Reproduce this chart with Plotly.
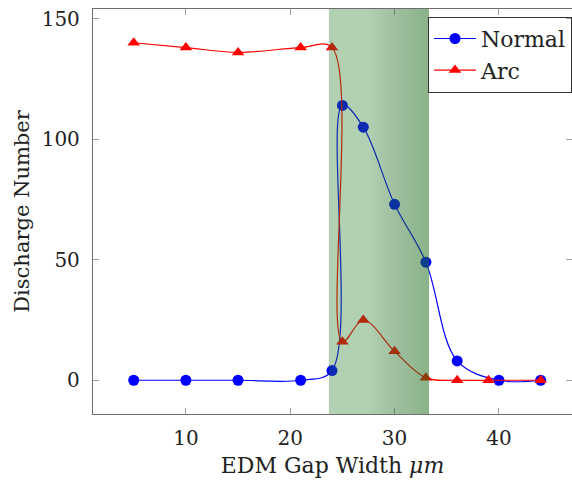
import plotly.graph_objects as go

# Data
normal_x = [5, 10, 15, 21, 24, 25, 27, 30, 33, 36, 40, 44]
normal_y = [0, 0, 0, 0, 4, 114, 105, 73, 49, 8, 0, 0]
arc_x = [5, 10, 15, 21, 24, 25, 27, 30, 33, 36, 39, 44]
arc_y = [140, 138, 136, 138, 138, 16, 25, 12, 1, 0, 0, 0]
x_ticks = [10, 20, 30, 40]
y_ticks = [0, 50, 100, 150]
shade_start, shade_end = 23.7, 33.3

FONT = "DejaVu Serif"

fig = go.Figure()
fig.add_trace(go.Scatter(
    x=normal_x, y=normal_y, name="Normal", mode="lines+markers",
    line=dict(color="#0000ff", width=1.2, shape="spline", smoothing=1.0),
    marker=dict(symbol="circle", size=11, color="#0000ff"),
))
fig.add_trace(go.Scatter(
    x=arc_x, y=arc_y, name="Arc", mode="lines+markers",
    line=dict(color="#ff0000", width=1.2, shape="spline", smoothing=1.0),
    marker=dict(symbol="triangle-up", size=11, color="#ff0000"),
))

# shaded band: base layer + stacked layers that darken toward the right
fig.add_shape(type="rect", xref="x", yref="paper", x0=shade_start, x1=shade_end,
              y0=0, y1=1, fillcolor="rgba(35,121,35,0.35)", line_width=0, layer="above")
n = 20
mid = shade_start + 0.4 * (shade_end - shade_start)
for i in range(n):
    xs = mid + (shade_end - mid) * i / n
    fig.add_shape(type="rect", xref="x", yref="paper", x0=xs, x1=shade_end,
                  y0=0, y1=1, fillcolor="rgba(40,105,40,0.017)", line_width=0, layer="above")

axis_common = dict(
    showgrid=False, zeroline=False, showline=True, linecolor="#6e6e6e", linewidth=1.3,
    mirror="allticks", ticks="inside", ticklen=6, tickcolor="#a0a0a0", tickwidth=1,
    tickfont=dict(family=FONT, size=20, color="#222"), automargin=False,
)
fig.update_xaxes(range=[1.1, 47.0], tickvals=x_ticks, ticklabelstandoff=6,
                 title=dict(text="EDM Gap Width <i>μm</i>", font=dict(family=FONT, size=22, color="#222"), standoff=8),
                 **axis_common)
fig.update_yaxes(range=[-14, 154], tickvals=y_ticks, ticklabelstandoff=8,
                 title=dict(text="Discharge Number", font=dict(family=FONT, size=21, color="#222"), standoff=6),
                 **axis_common)

fig.update_layout(
    width=572, height=482,
    margin=dict(l=93, r=0, t=9, b=68, autoexpand=False),
    plot_bgcolor="white", paper_bgcolor="white",
    font=dict(family=FONT, color="#222"),
    legend=dict(x=1.0, xanchor="right", y=0.981, yanchor="top",
                bgcolor="rgba(255,255,255,0)", bordercolor="#333", borderwidth=1,
                font=dict(family=FONT, size=22, color="#222"), itemwidth=42,
                entrywidth=148, entrywidthmode="pixels"),
    showlegend=True,
)

fig.write_html("out.html", post_script="document.body.style.margin='0';",
               config={"displayModeBar": False})
